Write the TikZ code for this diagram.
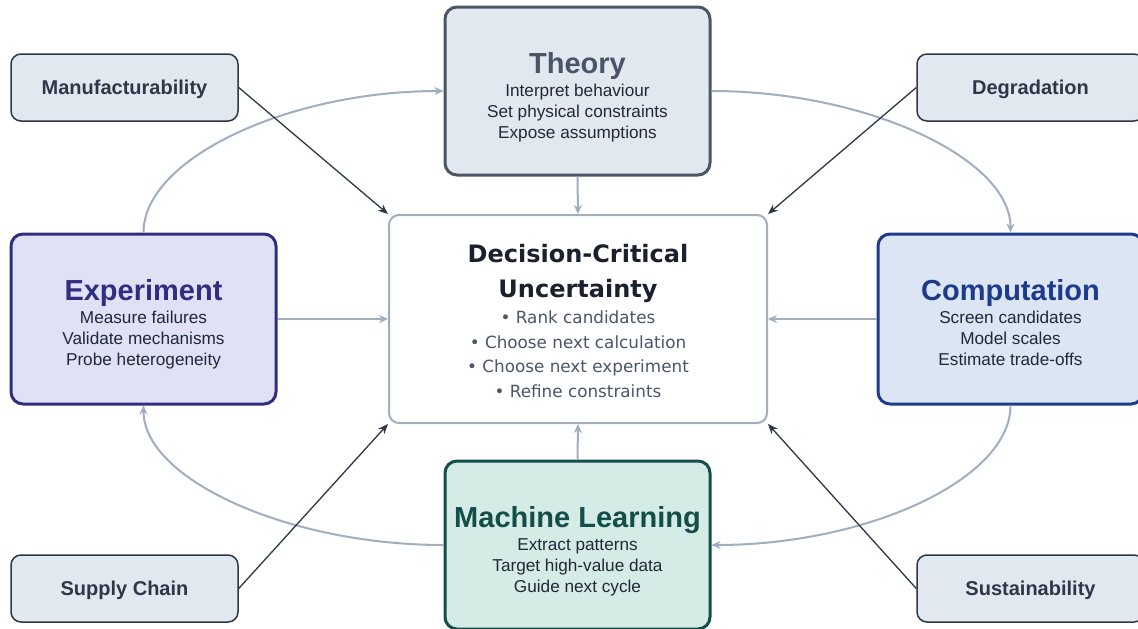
\documentclass[tikz,border=0pt]{standalone}
\usepackage{fontspec}
\setmainfont{Liberation Sans}
\newfontfamily\ctrfont{DejaVu Sans}
\usetikzlibrary{arrows.meta,calc}
\definecolor{slate}{HTML}{2D3748}
\definecolor{sidefill}{HTML}{E2E8F0}
\definecolor{theoryc}{HTML}{4A5568}
\definecolor{expc}{HTML}{312E81}
\definecolor{expfill}{HTML}{E0E1F4}
\definecolor{compc}{HTML}{1E3A8A}
\definecolor{compfill}{HTML}{DCE5F4}
\definecolor{mlc}{HTML}{134E4A}
\definecolor{mlfill}{HTML}{D5EBE6}
\definecolor{ctrborder}{HTML}{A0AEC0}
\definecolor{subtext}{HTML}{1F2937}
\definecolor{ctrtitle}{HTML}{1A202C}
\definecolor{bullettext}{HTML}{4A5568}
\tikzset{
  sidebox/.style={draw=slate, fill=sidefill, line width=1.5pt, rounded corners=10pt,
    minimum width=227pt, minimum height=67pt, inner sep=0pt, text height=14.3pt, text depth=0pt,
    font=\fontsize{20}{24}\selectfont\bfseries, text=slate},
  bigbox/.style={line width=3pt, rounded corners=12pt, minimum width=265pt, inner sep=0pt},
  ttl/.style={font=\fontsize{29}{33}\selectfont\bfseries, anchor=base, inner sep=0pt},
  subl/.style={font=\fontsize{17.2}{20}\selectfont, text=subtext, anchor=base, inner sep=0pt},
  ctitle/.style={font=\ctrfont\fontsize{24}{28}\selectfont\bfseries, text=ctrtitle, anchor=base, inner sep=0pt},
  cbul/.style={font=\ctrfont\fontsize{16.8}{20}\selectfont, text=bullettext, anchor=base, inner sep=0pt},
  garrow/.style={draw=ctrborder, line width=2pt, -{Stealth[length=9pt,width=8pt]}},
  darrow/.style={draw=slate, line width=1.3pt, -{Stealth[length=10pt,width=8pt]}}
}
\begin{document}
\begin{tikzpicture}[x=1pt,y=1pt]
\clip (0,0) rectangle (1138,-629);
\fill[white] (0,0) rectangle (1138,-629);

% main boxes
\node[bigbox, draw=theoryc, fill=sidefill, minimum height=168pt] (theory) at (577.5,-91) {};
\node[bigbox, draw=expc, fill=expfill, minimum height=170pt] (exp) at (143.5,-319) {};
\node[bigbox, draw=compc, fill=compfill, minimum height=170pt] (comp) at (1010.5,-319) {};
\node[bigbox, draw=mlc, fill=mlfill, minimum height=168pt] (ml) at (577.5,-545) {};
\node[draw=ctrborder, fill=white, line width=2pt, rounded corners=10pt,
      minimum width=378pt, minimum height=208pt, inner sep=0pt] (ctr) at (578,-319) {};

% side boxes
\node[sidebox] (manu) at (124.5,-87.5) {Manufacturability};
\node[sidebox] (degr) at (1030.5,-87.5) {Degradation};
\node[sidebox] (supply) at (124.5,-588.5) {Supply Chain};
\node[sidebox] (sust) at (1030.5,-588.5) {Sustainability};

% texts
\node[ttl, text=theoryc] (theoryT) at ($(theory.center)+(0,18)$) {Theory};
\node[subl] (theoryA) at ($(theory.center)+(0,-5.5)$) {Interpret behaviour};
\node[subl] (theoryB) at ($(theory.center)+(0,-26.5)$) {Set physical constraints};
\node[subl] (theoryC) at ($(theory.center)+(0,-47)$) {Expose assumptions};

\node[ttl, text=expc] (expT) at ($(exp.center)+(0,19)$) {Experiment};
\node[subl] (expA) at ($(exp.center)+(0,-4.5)$) {Measure failures};
\node[subl] (expB) at ($(exp.center)+(0,-25.5)$) {Validate mechanisms};
\node[subl] (expC) at ($(exp.center)+(0,-46)$) {Probe heterogeneity};

\node[ttl, text=compc] (compT) at ($(comp.center)+(0,19)$) {Computation};
\node[subl] (compA) at ($(comp.center)+(0,-4.5)$) {Screen candidates};
\node[subl] (compB) at ($(comp.center)+(0,-25.5)$) {Model scales};
\node[subl] (compC) at ($(comp.center)+(0,-46)$) {Estimate trade-offs};

\node[ttl, text=mlc] (mlT) at ($(ml.center)+(0,18)$) {Machine Learning};
\node[subl] (mlA) at ($(ml.center)+(0,-5.5)$) {Extract patterns};
\node[subl] (mlB) at ($(ml.center)+(0,-26.5)$) {Target high-value data};
\node[subl] (mlC) at ($(ml.center)+(0,-47)$) {Guide next cycle};

\node[ctitle] (ctrT1) at ($(ctr.center)+(0,57)$) {Decision-Critical};
\node[ctitle] (ctrT2) at ($(ctr.center)+(0,22)$) {Uncertainty};
\node[cbul] (ctrA) at ($(ctr.center)+(0,-4.5)$) {• Rank candidates};
\node[cbul] (ctrB) at ($(ctr.center)+(0,-29)$) {• Choose next calculation};
\node[cbul] (ctrC) at ($(ctr.center)+(0,-53.5)$) {• Choose next experiment};
\node[cbul] (ctrD) at ($(ctr.center)+(0,-78)$) {• Refine constraints};

% cycle curves
\draw[garrow] (exp.north) .. controls +(0,74) and +(-155,0) .. (theory.west);
\draw[garrow] (theory.east) .. controls +(155,0) and +(0,74) .. (comp.north);
\draw[garrow] (comp.south) .. controls +(0,-74) and +(155,0) .. (ml.east);
\draw[garrow] (ml.west) .. controls +(-155,0) and +(0,-74) .. (exp.south);

% straight gray arrows
\draw[garrow] (theory.south) -- (ctr.north);
\draw[garrow] (ml.north) -- (ctr.south);
\draw[garrow] (exp.east) -- (ctr.west);
\draw[garrow] (comp.west) -- (ctr.east);

% dark arrows
\draw[darrow] (manu.east) -- (ctr.north west);
\draw[darrow] (degr.west) -- (ctr.north east);
\draw[darrow] (supply.east) -- (ctr.south west);
\draw[darrow] (sust.west) -- (ctr.south east);
\end{tikzpicture}
\end{document}
